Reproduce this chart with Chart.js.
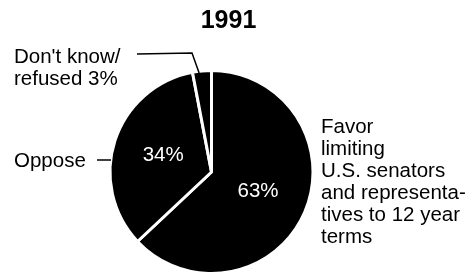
<!DOCTYPE html>
<html lang="en">
<head>
    <meta charset="UTF-8">
    <title>1991 term limits poll</title>
    <style>
        body {
            margin: 0;
            padding: 0;
            background-color: #ffffff;
        }

        .chart-box {
            position: relative;
            width: 473px;
            height: 278px;
        }
    </style>
</head>
<body>
    <div class="chart-box">
        <canvas id="pollChart"></canvas>
    </div>

    <script src="https://cdn.jsdelivr.net/npm/chart.js"></script>
    <script>
        // Data
        const chartTitle = '1991';
        const categories = [
            'Favor limiting U.S. senators and representatives to 12 year terms',
            'Oppose',
            "Don't know/refused"
        ];
        const shares = [63, 34, 3];

        // Text of the outside labels, line by line
        const favorLines = ['Favor', 'limiting', 'U.S. senators', 'and representa-', 'tives to 12 year', 'terms'];
        const opposeLines = ['Oppose'];
        const dontKnowLines = ["Don't know/", 'refused 3%'];

        const labelFont = '20.5px "Liberation Sans", Arial, sans-serif';

        // Draws title, percentages and leader lines
        const labelPlugin = {
            id: 'pollLabels',
            afterDatasetsDraw(chart) {
                const ctx = chart.ctx;
                const arcs = chart.getDatasetMeta(0).data;
                const cx = arcs[0].x;
                const cy = arcs[0].y;
                const r = arcs[0].outerRadius;

                ctx.save();
                ctx.fillStyle = '#000000';
                ctx.textBaseline = 'alphabetic';

                // title
                ctx.font = 'bold 25px "Liberation Sans", Arial, sans-serif';
                ctx.textAlign = 'center';
                ctx.fillText(chartTitle, cx + 17, 28);

                // percentages inside the two big slices
                ctx.font = labelFont;
                ctx.fillStyle = '#ffffff';
                ctx.textBaseline = 'middle';
                for (let i = 0; i < 2; i++) {
                    const pos = arcs[i].tooltipPosition();
                    ctx.fillText(shares[i] + '%', pos.x, pos.y - 1);
                }

                // outside labels
                ctx.fillStyle = '#000000';
                ctx.textBaseline = 'alphabetic';
                ctx.textAlign = 'left';
                ctx.font = labelFont;
                favorLines.forEach((line, i) => {
                    ctx.fillText(line, cx + r + 8, 133 + i * 22);
                });
                opposeLines.forEach((line, i) => {
                    ctx.fillText(line, 14, 167 + i * 22);
                });
                dontKnowLines.forEach((line, i) => {
                    ctx.fillText(line, 14, 63 + i * 22);
                });

                // leader lines
                ctx.strokeStyle = '#000000';
                ctx.lineWidth = 1.5;
                ctx.beginPath();
                ctx.moveTo(97, 160);
                ctx.lineTo(cx - r + 1, 160);
                ctx.stroke();

                const dk = arcs[2];
                const mid = (dk.startAngle + dk.endAngle) / 2;
                const ex = cx + Math.cos(mid) * (r - 2);
                const ey = cy + Math.sin(mid) * (r - 2);
                ctx.beginPath();
                ctx.moveTo(137, 54);
                ctx.lineTo(192, 53);
                ctx.lineTo(ex - 3, ey);
                ctx.stroke();

                ctx.restore();
            }
        };

        const pollCtx = document.getElementById('pollChart').getContext('2d');
        const pollChart = new Chart(pollCtx, {
            type: 'pie',
            data: {
                labels: categories,
                datasets: [{
                    data: shares,
                    backgroundColor: '#000000',
                    borderColor: '#ffffff',
                    borderWidth: 3
                }]
            },
            options: {
                responsive: true,
                maintainAspectRatio: false,
                animation: false,
                layout: {
                    padding: { left: 108, right: 158, top: 69, bottom: 3 }
                },
                plugins: {
                    legend: { display: false },
                    tooltip: { enabled: false },
                    title: { display: false }
                }
            },
            plugins: [labelPlugin]
        });
    </script>
</body>
</html>
